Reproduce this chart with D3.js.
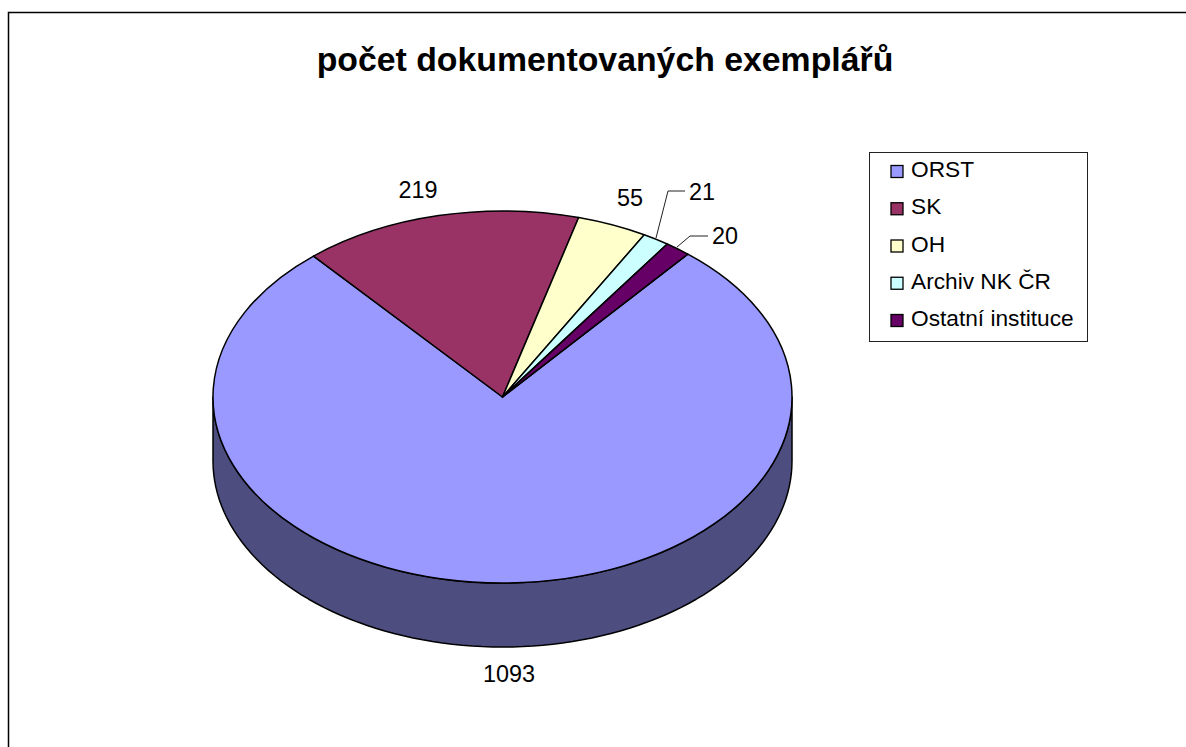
<!DOCTYPE html>
<html><head><meta charset="utf-8">
<script src="https://cdn.jsdelivr.net/npm/d3@7/dist/d3.min.js"></script>
<style>html,body{margin:0;padding:0;background:#fff}svg{display:block}text{font-family:"Liberation Sans",Arial,sans-serif;fill:#000}</style>
</head><body><svg id="c" width="1186" height="747"></svg>
<script>
const categories=["ORST","SK","OH","Archiv NK ČR","Ostatní instituce"];
const values=[1093,219,55,21,20];
const colors=["#9999FF","#993366","#FFFFCC","#CCFFFF","#660066"];
const titleText="počet dokumentovaných exemplářů";
const wallColor="#4D4D80";

(function(){
const W=1186,H=747,cx=502.5,cy=397,rx=289.5,ry=186,depth=64;
const svg=d3.select("#c");
const yScale=ry/rx;
const startDeg=39.8;
const pie=d3.pie().sort(null).startAngle(startDeg*Math.PI/180).endAngle((startDeg+360)*Math.PI/180);
const arcs=pie(values);
const arc=d3.arc().innerRadius(0).outerRadius(rx);

// frame
svg.append("path").attr("d",`M8.5,${H}V12.5H${W}`).attr("fill","none").attr("stroke","#000").attr("stroke-width",1.5);

// title
svg.append("text").attr("x",605).attr("y",71).attr("text-anchor","middle")
  .attr("font-size",33.8).attr("font-weight","bold").text(titleText);

// wall
const ell=a=>[cx+rx*Math.sin(a),cy-ry*Math.cos(a)];
const front=d3.range(90,270.01,2).map(d=>ell(d*Math.PI/180));
const wallPts=front.concat(front.slice().reverse().map(p=>[p[0],p[1]+depth]));
svg.append("path").attr("d",d3.line()(wallPts)+"Z").attr("fill",wallColor)
  .attr("stroke","#000").attr("stroke-width",1.5).attr("stroke-linejoin","round");

// top face
const face=svg.append("g").attr("transform",`translate(${cx},${cy}) scale(1,${yScale})`);
face.selectAll("path").data(arcs).join("path").attr("d",arc)
  .attr("fill",(d,i)=>colors[i]).attr("stroke","#000").attr("stroke-width",1.5)
  .attr("stroke-linejoin","round").attr("vector-effect","non-scaling-stroke");

// leaders
const leaders=[[[656,238],[668,191],[685,191]],[[677,247],[690,236],[708,236]]];
svg.selectAll("path.leader").data(leaders).join("path").attr("class","leader")
  .attr("d",d=>d3.line()(d)).attr("fill","none").attr("stroke","#222").attr("stroke-width",1);

// data labels
const labelPos=[[509,682],[418,198],[630,206],[702,200],[725,244]];
svg.selectAll("text.lab").data(values).join("text").attr("class","lab")
  .attr("x",(d,i)=>labelPos[i][0]).attr("y",(d,i)=>labelPos[i][1])
  .attr("text-anchor","middle").attr("font-size",23.4).text(d=>d);

// legend
svg.append("rect").attr("x",869.5).attr("y",152.5).attr("width",218).attr("height",189)
  .attr("fill","#fff").attr("stroke","#222").attr("stroke-width",1);
const ly=d3.scalePoint().domain(categories).range([171,320]);
const lg=svg.selectAll("g.lg").data(categories).join("g").attr("class","lg")
  .attr("transform",d=>`translate(0,${ly(d)})`);
lg.append("rect").attr("x",891).attr("y",-5.5).attr("width",12).attr("height",12)
  .attr("fill",(d,i)=>colors[i]).attr("stroke","#000").attr("stroke-width",1.3);
lg.append("text").attr("x",911).attr("y",6).attr("font-size",22.7).text(d=>d);
})();
</script></body></html>
